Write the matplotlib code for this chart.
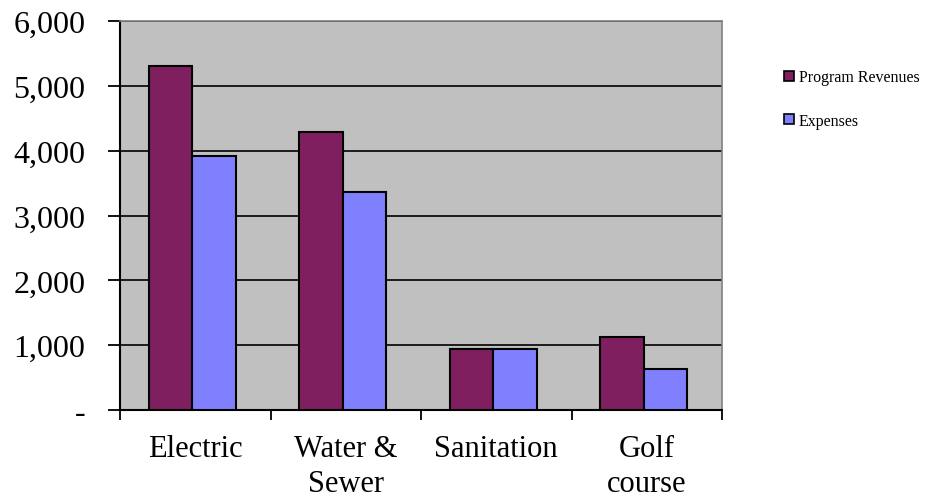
import matplotlib.pyplot as plt
import numpy as np
from matplotlib.ticker import FuncFormatter
from matplotlib.patches import Patch

categories = ['Electric', 'Water &\nSewer', 'Sanitation', 'Golf\ncourse']
revenues = [5310, 4290, 940, 1125]
expenses = [3925, 3370, 940, 635]
yticks = [0, 1000, 2000, 3000, 4000, 5000, 6000]

plt.rcParams['font.family'] = ['Liberation Serif', 'DejaVu Serif']

fig = plt.figure(figsize=(9.25, 5.02), dpi=100)
ax = fig.add_axes([120 / 925, 1 - 411 / 502, 602 / 925, 389 / 502])
ax.set_facecolor('#C0C0C0')

x = np.arange(len(categories))
w = 0.29
ax.bar(x - w / 2 - 0.02, revenues, w, color='#7F1F5F', edgecolor='black', linewidth=1.5, zorder=3)
ax.bar(x + w / 2 - 0.02, expenses, w, color='#8080FF', edgecolor='black', linewidth=1.5, zorder=3)

ax.set_xlim(-0.5, len(categories) - 0.5)
ax.set_ylim(0, 6000)
ax.set_yticks(yticks)
ax.yaxis.set_major_formatter(FuncFormatter(lambda v, p: '-' if v == 0 else f'{int(v):,}'))
ax.grid(axis='y', color='black', linewidth=1.2, zorder=1)
ax.set_xticks(np.arange(len(categories) + 1) - 0.5)
ax.set_xticklabels([])
ax.set_xticks(x, minor=True)
ax.set_xticklabels(categories, minor=True, fontsize=22, linespacing=1.3)
ax.tick_params(axis='x', which='minor', length=0, pad=17)
ax.tick_params(axis='x', which='major', length=7, width=1.3, direction='out')
ax.tick_params(axis='y', length=9, width=1.3, direction='out', labelsize=23, pad=16)

for s in ['left', 'bottom']:
    ax.spines[s].set_linewidth(1.5)
for s in ['top', 'right']:
    ax.spines[s].set_color('#808080')
    ax.spines[s].set_linewidth(1.2)

handles = [Patch(facecolor='#7F1F5F', edgecolor='black', linewidth=1.2),
           Patch(facecolor='#8080FF', edgecolor='black', linewidth=1.2)]
fig.legend(handles, ['Program Revenues', 'Expenses'], loc='upper left',
           bbox_to_anchor=(770 / 925, 1 - 56 / 502), frameon=False, fontsize=11.5,
           handlelength=0.6, handleheight=0.6, handletextpad=0.3, labelspacing=1.7)

fig.savefig('out.png', dpi=100)
